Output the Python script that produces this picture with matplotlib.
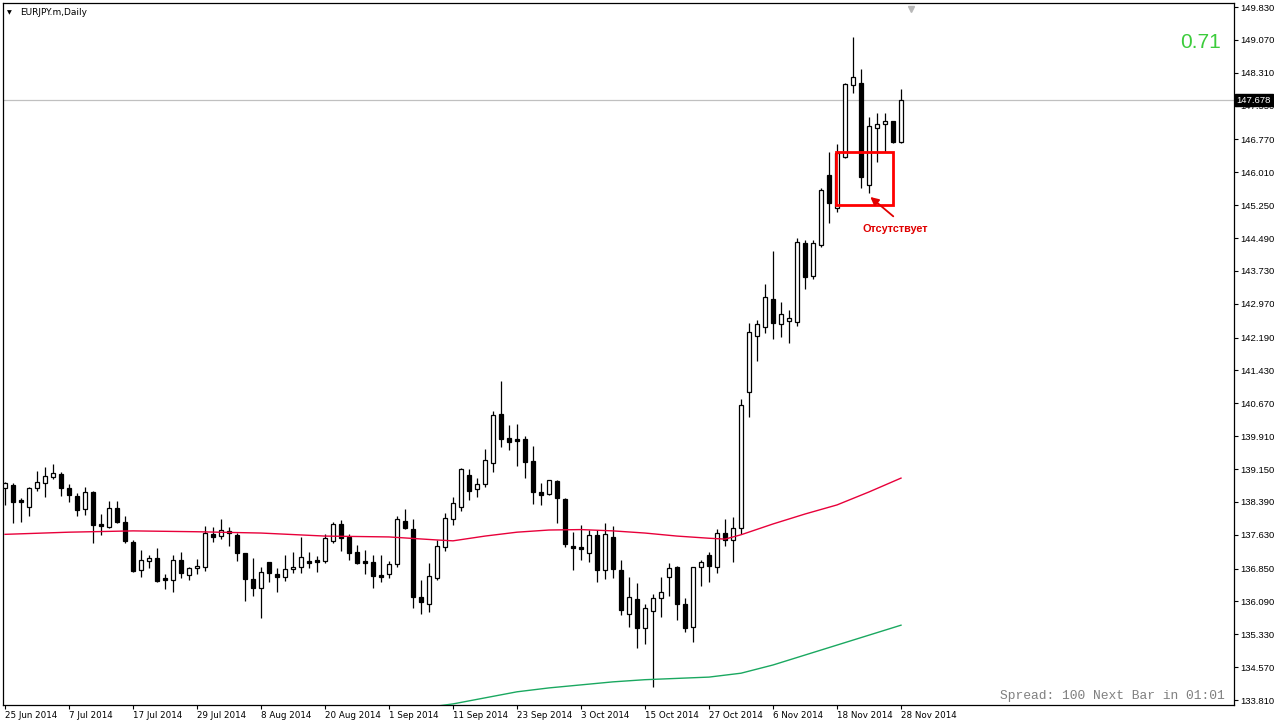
import matplotlib
matplotlib.use('Agg')
import matplotlib.pyplot as plt
from matplotlib.patches import Rectangle
import numpy as np

# ---------------- data (EURJPY daily, 25 Jun 2014 .. 28 Nov 2014) ----------------
opens = [138.71, 138.78, 138.43, 138.27, 138.71, 138.83, 138.97, 139.04, 138.71, 138.53,
         138.22, 138.62, 137.88, 137.81, 138.25, 137.93, 137.46, 136.82, 137.02, 137.09,
         136.63, 136.58, 137.05, 136.70, 136.86, 136.88, 137.65, 137.60, 137.72, 137.62,
         137.21, 136.61, 136.40, 137.00, 136.72, 136.65, 136.84, 136.88, 137.02, 137.05,
         137.02, 137.49, 137.88, 137.58, 137.23, 137.02, 137.00, 136.70, 136.72, 136.95,
         137.95, 137.76, 136.19, 136.03, 136.63, 137.35, 137.99, 138.27, 139.01, 138.69,
         138.80, 139.29, 140.42, 139.87, 139.84, 139.84, 139.33, 138.62, 138.57, 138.87,
         138.46, 137.37, 137.35, 137.21, 137.62, 136.82, 137.58, 136.82, 135.80, 136.15,
         135.47, 135.87, 136.17, 136.65, 136.88, 136.03, 135.50, 136.88, 137.16, 136.88,
         137.67, 137.51, 137.79, 140.93, 142.22, 142.43, 143.08, 142.50, 142.57, 142.55,
         144.37, 143.61, 144.33, 145.95, 145.18, 146.36, 148.03, 148.07, 145.72, 147.03,
         147.13, 147.20, 146.71]
highs = [138.85, 138.83, 138.48, 138.73, 139.10, 139.20, 139.27, 139.08, 138.80, 138.60,
         138.73, 138.64, 138.11, 138.41, 138.41, 138.06, 137.51, 137.28, 137.16, 137.32,
         136.72, 137.16, 137.23, 136.88, 137.07, 137.83, 137.81, 137.99, 137.81, 137.67,
         137.21, 137.09, 136.88, 137.00, 136.86, 137.16, 137.23, 137.58, 137.23, 137.14,
         137.65, 137.93, 137.97, 137.65, 137.39, 137.28, 137.16, 137.16, 137.02, 138.06,
         138.22, 137.99, 136.58, 136.98, 137.51, 138.13, 138.50, 139.17, 139.15, 138.94,
         139.61, 140.49, 141.18, 140.17, 140.19, 139.91, 139.68, 138.83, 138.90, 138.90,
         138.48, 137.69, 137.86, 137.74, 137.74, 137.90, 137.83, 137.05, 136.65, 136.51,
         136.03, 136.26, 136.65, 136.98, 136.91, 136.17, 136.88, 137.05, 137.23, 137.76,
         137.99, 138.04, 140.77, 142.53, 142.59, 143.43, 144.19, 143.01, 142.83, 144.49,
         144.44, 144.44, 145.65, 146.48, 146.66, 148.07, 149.14, 148.40, 147.29, 147.38,
         147.38, 147.20, 147.93]
lows = [138.32, 137.90, 137.93, 138.06, 138.64, 138.50, 138.92, 138.53, 138.39, 138.06,
        138.09, 137.44, 137.62, 137.79, 137.90, 137.44, 136.77, 136.65, 136.86, 136.54,
        136.38, 136.31, 136.63, 136.58, 136.72, 136.79, 137.46, 137.53, 137.37, 137.02,
        136.10, 136.21, 135.71, 136.54, 136.31, 136.56, 136.75, 136.75, 136.86, 136.77,
        136.98, 137.44, 137.25, 137.05, 136.95, 136.72, 136.40, 136.54, 136.63, 136.88,
        137.76, 135.94, 135.80, 135.84, 136.58, 137.25, 137.86, 138.18, 138.43, 138.50,
        138.73, 139.08, 139.66, 139.59, 139.22, 138.94, 138.34, 138.32, 138.55, 137.90,
        137.35, 136.82, 137.05, 137.00, 136.54, 136.61, 136.63, 135.78, 135.50, 135.01,
        135.10, 134.11, 135.73, 136.21, 135.66, 135.38, 135.15, 136.45, 136.54, 136.75,
        137.37, 137.00, 137.65, 140.35, 141.65, 142.29, 142.15, 142.20, 142.06, 142.45,
        143.31, 143.54, 144.28, 144.84, 145.09, 146.34, 147.84, 145.65, 145.53, 146.25,
        146.48, 146.69, 146.69]
closes = [138.83, 138.39, 138.39, 138.71, 138.85, 138.99, 139.06, 138.71, 138.55, 138.20,
          138.62, 137.86, 137.83, 138.25, 137.93, 137.49, 136.79, 137.05, 137.09, 136.56,
          136.58, 137.05, 136.75, 136.86, 136.91, 137.67, 137.58, 137.74, 137.67, 137.21,
          136.61, 136.40, 136.77, 136.75, 136.65, 136.84, 136.88, 137.12, 136.98, 137.00,
          137.56, 137.88, 137.56, 137.21, 136.98, 136.98, 136.68, 136.65, 136.95, 137.99,
          137.79, 136.19, 136.08, 136.68, 137.37, 138.02, 138.36, 139.15, 138.64, 138.80,
          139.36, 140.40, 139.84, 139.77, 139.80, 139.31, 138.62, 138.55, 138.90, 138.48,
          137.42, 137.32, 137.30, 137.62, 136.82, 137.65, 136.84, 135.89, 136.19, 135.47,
          135.94, 136.17, 136.31, 136.86, 136.03, 135.47, 136.88, 137.00, 136.91, 137.67,
          137.51, 137.79, 140.63, 142.32, 142.50, 143.13, 142.52, 142.73, 142.64, 144.40,
          143.59, 144.37, 145.60, 145.30, 146.46, 148.05, 148.21, 145.90, 147.08, 147.13,
          147.20, 146.71, 147.678]

# moving averages read at selected bars
ma_red_bars = [0, 8, 16, 24, 32, 40, 48, 54, 56, 60, 64, 68, 72, 76, 80, 84, 88, 90, 92,
               96, 100, 104, 108, 112]
ma_red_vals = [137.64, 137.69, 137.72, 137.70, 137.67, 137.60, 137.58, 137.51, 137.49,
               137.60, 137.69, 137.74, 137.75, 137.72, 137.67, 137.60, 137.55, 137.53,
               137.63, 137.88, 138.11, 138.32, 138.62, 138.94]
ma_green_bars = [48, 54, 56, 60, 64, 68, 72, 76, 80, 84, 88, 92, 96, 100, 104, 108, 112]
ma_green_vals = [133.50, 133.67, 133.72, 133.86, 134.00, 134.09, 134.16, 134.23, 134.28,
                 134.31, 134.34, 134.43, 134.62, 134.85, 135.08, 135.31, 135.54]

date_labels = ['25 Jun 2014', '7 Jul 2014', '17 Jul 2014', '29 Jul 2014', '8 Aug 2014',
               '20 Aug 2014', '1 Sep 2014', '11 Sep 2014', '23 Sep 2014', '3 Oct 2014',
               '15 Oct 2014', '27 Oct 2014', '6 Nov 2014', '18 Nov 2014', '28 Nov 2014']
date_label_bars = [0, 8, 16, 24, 32, 40, 48, 56, 64, 72, 80, 88, 96, 104, 112]
price_ticks = [149.830, 149.070, 148.310, 147.550, 146.770, 146.010, 145.250, 144.490,
               143.730, 142.970, 142.190, 141.430, 140.670, 139.910, 139.150, 138.390,
               137.630, 136.850, 136.090, 135.330, 134.570, 133.810]
bid_price = 147.678
symbol_title = 'EURJPY.m,Daily'
corner_value = '0.71'
status_text = 'Spread: 100 Next Bar in 01:01'
note_text = 'Отсутствует'

# ---------------- figure ----------------
W, H = 1274, 724
fig = plt.figure(figsize=(W / 100, H / 100), dpi=100)
fig.patch.set_facecolor('white')
ax = fig.add_axes([3 / W, 19 / H, 1231 / W, 702 / H])
ax.set_facecolor('white')

o = np.array(opens); h = np.array(highs); l = np.array(lows); c = np.array(closes)
idx = np.arange(len(o))
up = c >= o

ax.vlines(idx, l, h, color='black', linewidth=0.9, zorder=2)
body_bottom = np.minimum(o, c)
body_h = np.maximum(np.abs(c - o), 0.004)
ax.bar(idx[up], body_h[up], bottom=body_bottom[up], width=0.55,
       facecolor='white', edgecolor='black', linewidth=0.9, zorder=3)
ax.bar(idx[~up], body_h[~up], bottom=body_bottom[~up], width=0.55,
       facecolor='black', edgecolor='black', linewidth=0.9, zorder=3)

ax.plot(ma_red_bars, ma_red_vals, color='#e8003a', linewidth=1.0, zorder=4)
ax.plot(ma_green_bars, ma_green_vals, color='#1aa860', linewidth=1.0, zorder=4)

ax.axhline(bid_price, color='#c0c0c0', linewidth=0.9, zorder=1)

ax.set_xlim(-0.25, 153.625)
ax.set_ylim(133.695, 149.923)

# axes styling
for s in ax.spines.values():
    s.set_color('black')
    s.set_linewidth(0.9)
ax.yaxis.tick_right()
ax.set_yticks(price_ticks)
ax.set_yticklabels([f'{p:.3f}' for p in price_ticks], family='Liberation Sans')
ax.tick_params(axis='y', direction='out', length=3, width=0.8, pad=1.5,
               labelsize=6.8, colors='black')
ax.set_xticks(date_label_bars)
ax.set_xticklabels(date_labels)
ax.tick_params(axis='x', direction='out', length=3, width=0.8, pad=1.5,
               labelsize=6.3, colors='black')
for lab in ax.get_xticklabels():
    lab.set_horizontalalignment('left')

# bid price label
ax.text(1.002, bid_price, f'{bid_price:.3f}', transform=ax.get_yaxis_transform(),
        color='white', fontsize=6.8, family='Liberation Sans', va='center', ha='left',
        zorder=10, bbox=dict(facecolor='black', edgecolor='black', pad=1.2), clip_on=False)

# title
fig.text(7 / W, 1 - 12.5 / H, '▼', fontsize=4.5, va='center', ha='left', color='black')
fig.text(20 / W, 1 - 12.5 / H, symbol_title, fontsize=6.5, va='center', ha='left',
         color='black')

# shift marker
ax.plot([0.738], [0.992], marker='v', color='#b8b8b8', markersize=5,
        transform=ax.transAxes, clip_on=False)

# corner value
ax.text(0.9894, 0.9444, corner_value, transform=ax.transAxes, color='#3ccc3c',
        fontsize=15, family='Liberation Sans', ha='right', va='center')

# status text
ax.text(0.9927, 0.0128, status_text, transform=ax.transAxes, color='#808080',
        fontsize=9.4, family='Liberation Mono', ha='right', va='center')

# annotation box + arrow + note
box_x0, box_x1 = 103.875, 111.0
box_y0, box_y1 = 145.253, 146.48
ax.add_patch(Rectangle((box_x0, box_y0), box_x1 - box_x0, box_y1 - box_y0,
                       fill=False, edgecolor='#ff0000', linewidth=2.0, zorder=6))
ax.annotate('', xy=(107.9, 145.48), xytext=(111.3, 144.95),
            arrowprops=dict(arrowstyle='-|>', color='#e00000', lw=1.3,
                            mutation_scale=12), zorder=6)
ax.text(107.2, 144.70, note_text, color='#e00000', fontsize=7.8, fontweight='bold',
        family='Liberation Sans', ha='left', va='center', zorder=6)

fig.savefig('out.png', dpi=100)
